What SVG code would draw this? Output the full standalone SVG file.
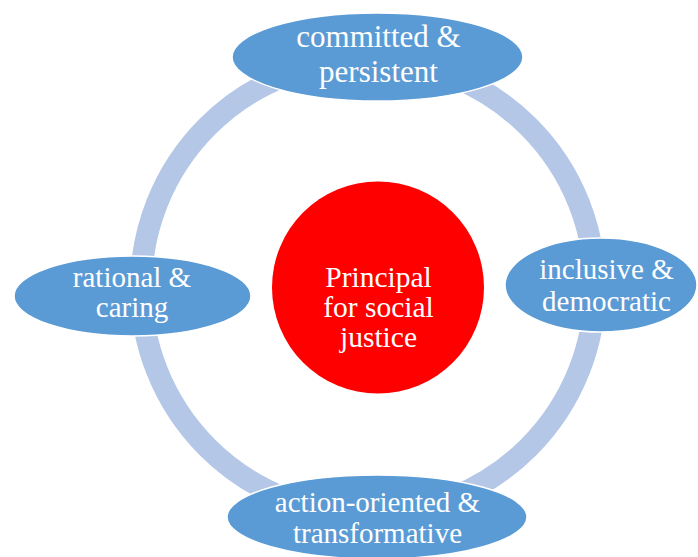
<svg xmlns="http://www.w3.org/2000/svg" width="698" height="557" viewBox="0 0 698 557">
<style>
.node{fill:#5B9BD5;stroke:#FFFFFF;stroke-width:1.5}
.lbl{font-family:"Liberation Serif","Times New Roman",serif;fill:#FFFFFF;text-anchor:middle}
</style>
<rect width="698" height="557" fill="#FFFFFF"/>
<g id="connectors">
<circle cx="368" cy="287" r="227" fill="none" stroke="#B4C7E7" stroke-width="22"/>
</g>
<g id="node-top">
<ellipse class="node" cx="377.5" cy="57" rx="145.5" ry="44"/>
<text class="lbl" font-size="31" x="378.5" y="47">committed &amp;</text>
<text class="lbl" font-size="31" x="378.5" y="82">persistent</text>
</g>
<g id="node-left">
<ellipse class="node" cx="132.5" cy="296" rx="118.5" ry="40"/>
<text class="lbl" font-size="29" x="132" y="287">rational &amp;</text>
<text class="lbl" font-size="29" x="132" y="317">caring</text>
</g>
<g id="node-right">
<ellipse class="node" cx="601" cy="285" rx="96" ry="47"/>
<text class="lbl" font-size="29" x="606.5" y="279">inclusive &amp;</text>
<text class="lbl" font-size="29" x="606.5" y="311">democratic</text>
</g>
<g id="node-bottom">
<ellipse class="node" cx="377" cy="517" rx="150" ry="42"/>
<text class="lbl" font-size="29" x="377.5" y="512">action-oriented &amp;</text>
<text class="lbl" font-size="29" x="377.5" y="543">transformative</text>
</g>
<g id="node-center">
<circle cx="378" cy="287.5" r="106" fill="#FF0000"/>
<text class="lbl" font-size="29.5" x="378.5" y="287">Principal</text>
<text class="lbl" font-size="29.5" x="378.5" y="317">for social</text>
<text class="lbl" font-size="29.5" x="378.5" y="347">justice</text>
</g>
</svg>
